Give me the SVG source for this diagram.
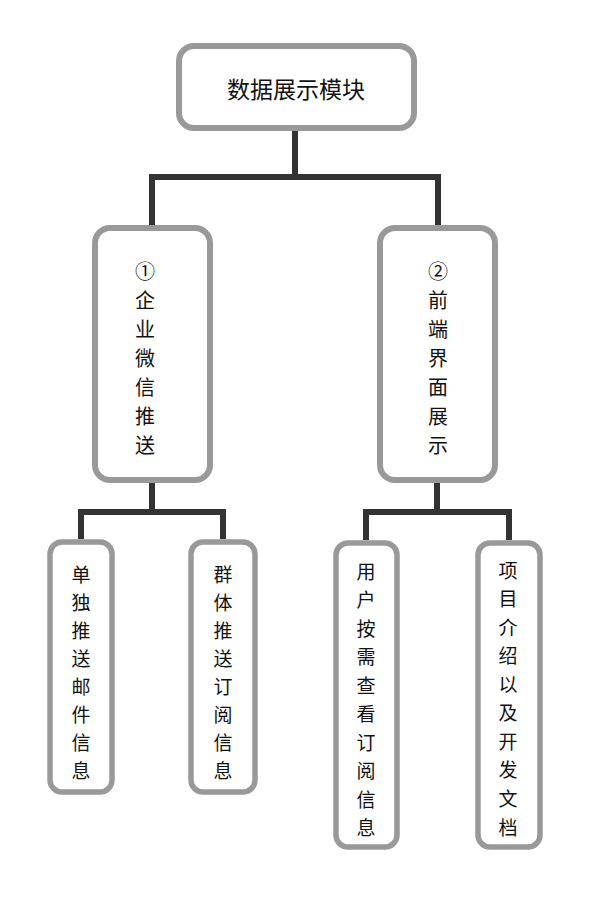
<svg xmlns="http://www.w3.org/2000/svg" width="592" height="898" viewBox="0 0 592 898">
<style>
.box{fill:#fff;stroke:#999;stroke-width:6}
.box3{fill:#fff;stroke:#999;stroke-width:5.5}
.conn{fill:none;stroke:#333;stroke-width:6}
text{font-family:"Noto Sans CJK SC","Noto Sans",sans-serif;fill:#111;text-anchor:middle;dominant-baseline:central}
.t1{font-size:23px}
.t2{font-size:20px}
.t3{font-size:19px}
</style>
<rect width="592" height="898" fill="#fff"/>
<g id="connectors">
<path class="conn" d="M295 131 V177 M152 228 V177 H438 V228"/>
<path class="conn" d="M152 483 V512 M81 539 V512 H223 V539"/>
<path class="conn" d="M437 483 V512 M366 540 V512 H509 V540"/>
</g>
<g id="root">
<rect class="box" x="179" y="46" width="235" height="82" rx="15"/>
<text class="t1" x="296" y="88">数据展示模块</text>
</g>
<g id="wechat">
<rect class="box" x="95" y="228" width="115" height="252" rx="15"/>
<text class="t2" x="145" y="270">①</text>
<text class="t2" x="145" y="299">企</text>
<text class="t2" x="145" y="328">业</text>
<text class="t2" x="145" y="357">微</text>
<text class="t2" x="145" y="386">信</text>
<text class="t2" x="145" y="415">推</text>
<text class="t2" x="145" y="444">送</text>
</g>
<g id="frontend">
<rect class="box" x="380" y="228" width="115" height="252" rx="15"/>
<text class="t2" x="438" y="270">②</text>
<text class="t2" x="438" y="299">前</text>
<text class="t2" x="438" y="328">端</text>
<text class="t2" x="438" y="357">界</text>
<text class="t2" x="438" y="386">面</text>
<text class="t2" x="438" y="415">展</text>
<text class="t2" x="438" y="444">示</text>
</g>
<g id="single">
<rect class="box3" x="50" y="542" width="62" height="250" rx="12"/>
<text class="t3" x="81" y="573">单</text>
<text class="t3" x="81" y="601">独</text>
<text class="t3" x="81" y="629">推</text>
<text class="t3" x="81" y="657">送</text>
<text class="t3" x="81" y="685">邮</text>
<text class="t3" x="81" y="713">件</text>
<text class="t3" x="81" y="741">信</text>
<text class="t3" x="81" y="769">息</text>
</g>
<g id="group">
<rect class="box3" x="191" y="542" width="64" height="250" rx="12"/>
<text class="t3" x="223" y="573">群</text>
<text class="t3" x="223" y="601">体</text>
<text class="t3" x="223" y="629">推</text>
<text class="t3" x="223" y="657">送</text>
<text class="t3" x="223" y="685">订</text>
<text class="t3" x="223" y="713">阅</text>
<text class="t3" x="223" y="741">信</text>
<text class="t3" x="223" y="769">息</text>
</g>
<g id="user">
<rect class="box3" x="336" y="543" width="61" height="304" rx="12"/>
<text class="t3" x="366" y="570">用</text>
<text class="t3" x="366" y="598.5">户</text>
<text class="t3" x="366" y="627">按</text>
<text class="t3" x="366" y="655.5">需</text>
<text class="t3" x="366" y="684">查</text>
<text class="t3" x="366" y="712.5">看</text>
<text class="t3" x="366" y="741">订</text>
<text class="t3" x="366" y="769.5">阅</text>
<text class="t3" x="366" y="798">信</text>
<text class="t3" x="366" y="826.5">息</text>
</g>
<g id="project">
<rect class="box3" x="478" y="543" width="62" height="304" rx="12"/>
<text class="t3" x="508" y="569">项</text>
<text class="t3" x="508" y="597.5">目</text>
<text class="t3" x="508" y="626">介</text>
<text class="t3" x="508" y="654.5">绍</text>
<text class="t3" x="508" y="683">以</text>
<text class="t3" x="508" y="711.5">及</text>
<text class="t3" x="508" y="740">开</text>
<text class="t3" x="508" y="768.5">发</text>
<text class="t3" x="508" y="797">文</text>
<text class="t3" x="508" y="826">档</text>
</g>
</svg>
